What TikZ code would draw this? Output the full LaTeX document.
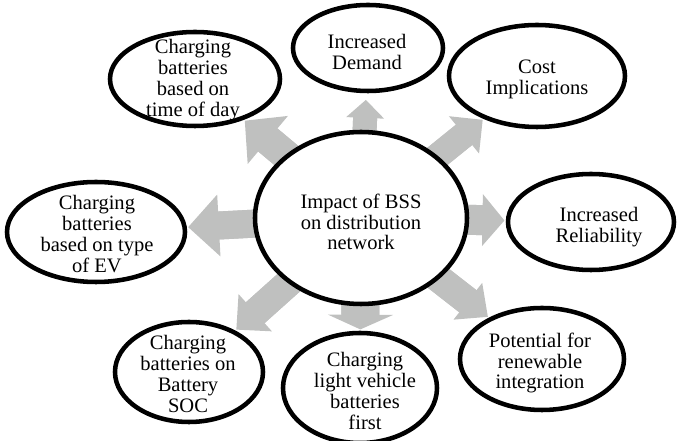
\documentclass[tikz,border=0pt]{standalone}
\usepackage{fontspec}
\setmainfont{Liberation Serif}
\usetikzlibrary{shapes.geometric,arrows.meta,backgrounds}

\definecolor{spokegray}{RGB}{191,192,191}

\tikzset{
  bubble/.style={ellipse, draw, line width=3.4pt, fill=white, inner sep=0pt},
  txt/.style={align=center, inner sep=0pt, font=\fontsize{15.4}{15.6}\selectfont},
  % shaft width, head width, head length, gap at the tip
  spoke/.style n args={4}{draw=spokegray, line width=#1,
    -{Triangle[width=#2, length=#3, line width=0pt]}, shorten >=#4,
    postaction={draw=spokegray, line width=#1, -, shorten >=#4+#3-2pt}}
}

\begin{document}
\begin{tikzpicture}[x=0.75pt, y=-0.75pt]

    % Fix the page to the picture size
    \useasboundingbox (0,0) rectangle (679,441);

    % Central bubble
    \node[bubble, minimum width=159pt, minimum height=129pt] (ctr) at (361,218) {};
    \node[txt] (ctr-t) at (361,222) {Impact of BSS\\on distribution\\network};

    % Outer bubbles, clockwise from the top
    \node[bubble, minimum width=112.5pt, minimum height=64.5pt] (dem) at (368,48) {};
    \node[txt] (dem-t) at (367,52) {Increased\\Demand};

    \node[bubble, minimum width=132pt, minimum height=76.5pt] (cost) at (537,76) {};
    \node[txt] (cost-t) at (537,79) {Cost\\Implications};

    \node[bubble, minimum width=124.5pt, minimum height=72pt] (rel) at (591,222) {};
    \node[txt] (rel-t) at (599,227) {Increased\\Reliability};

    \node[bubble, minimum width=123pt, minimum height=76.5pt] (ren) at (542,359) {};
    \node[txt] (ren-t) at (540,363) {Potential for\\renewable\\integration};

    \node[bubble, minimum width=115.5pt, minimum height=82.5pt] (light) at (360,388) {};
    \node[txt] (light-t) at (365,391) {Charging\\light vehicle\\batteries\\first};

    \node[bubble, minimum width=111pt, minimum height=75pt] (soc) at (189,372) {};
    \node[txt] (soc-t) at (188,374) {Charging\\batteries on\\Battery\\SOC};

    \node[bubble, minimum width=133.5pt, minimum height=75pt] (ev) at (96,232) {};
    \node[txt] (ev-t) at (97,234) {Charging\\batteries\\based on type\\of EV};

    \node[bubble, minimum width=127.5pt, minimum height=70.5pt] (day) at (195,79) {};
    \node[txt] (day-t) at (193,80) {Charging\\batteries\\based on\\time of day};

    % Gray spokes, kept behind the bubbles
    \begin{scope}[on background layer]
        \draw[spoke={18pt}{28.5pt}{13.5pt}{5pt}] (ctr.center) -- (dem);
        \draw[spoke={19.5pt}{36pt}{18pt}{1pt}] (ctr.center) -- (cost);
        \draw[spoke={22.5pt}{39pt}{16.5pt}{1pt}] (ctr.center) -- (rel);
        \draw[spoke={21pt}{35pt}{19pt}{1pt}] (ctr.center) -- (ren);
        \draw[spoke={28.5pt}{49pt}{11pt}{1pt}] (ctr.center) -- (light);
        \draw[spoke={21pt}{37.5pt}{19pt}{1pt}] (ctr.center) -- (soc);
        \draw[spoke={21pt}{46.5pt}{23pt}{1pt}] (ctr.center) -- (ev);
        \draw[spoke={22.5pt}{47pt}{22.5pt}{1pt}] (ctr.center) -- (day);
    \end{scope}

\end{tikzpicture}
\end{document}
